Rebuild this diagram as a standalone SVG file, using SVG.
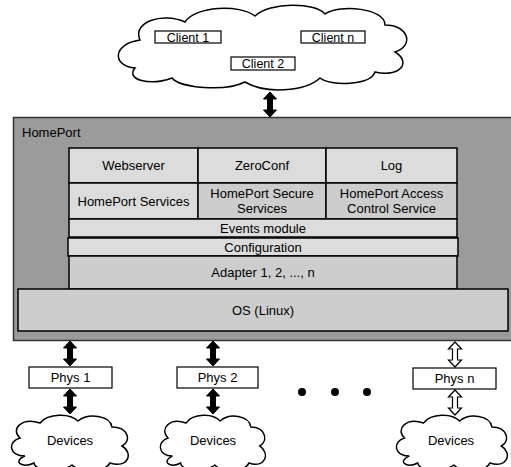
<svg xmlns="http://www.w3.org/2000/svg" width="511" height="467" viewBox="0 0 511 467">
<style>
text{font-family:"Liberation Sans",Arial,sans-serif;font-size:13px;fill:#000;text-anchor:middle}
.sm{font-size:12.5px}
.cloud{fill:#fff;stroke:#000;stroke-width:1.5}
.box{fill:#fff;stroke:#000;stroke-width:1.2}
.cell{stroke:#000;stroke-width:1.5}
.l{fill:#dcdcdc}
.d{fill:#cdcdcd}
.arw{fill:#000;stroke:#000;stroke-width:1}
.arwo{fill:#fff;stroke:#000;stroke-width:1.2}
</style>
<defs>
<path id="dbl" d="M0,0 L6.5,7 L2.5,7 L2.5,18 L6.5,18 L0,25 L-6.5,18 L-2.5,18 L-2.5,7 L-6.5,7 Z"/>
<path id="dev" d="M-45,15 C-62,15 -62,0 -50,-3 C-60,-12 -48,-24 -30,-18 C-22,-28 0,-28 8,-20 C18,-28 40,-26 42,-14 C58,-14 62,0 52,5 C64,12 58,28 40,22 C34,32 10,32 2,24 C-10,32 -35,30 -36,22 C-48,28 -58,20 -45,15 Z"/>
</defs>
<g id="clients">
<path class="cloud" d="M135,68 C112,66 112,44 140,40 C132,22 162,12 185,22 C195,6 240,4 255,16 C270,2 315,2 325,14 C340,4 385,8 385,25 C408,25 415,45 395,52 C412,62 400,78 375,72 C370,86 330,86 320,78 C305,92 265,94 245,82 C225,92 180,88 172,78 C150,86 125,80 135,68 Z"/>
<rect class="box" x="155" y="31" width="66" height="12"/><text class="sm" x="188" y="41.5">Client 1</text>
<rect class="box" x="301" y="31" width="64" height="12"/><text class="sm" x="333" y="41.5">Client n</text>
<rect class="box" x="231" y="57" width="64" height="13"/><text class="sm" x="263" y="68">Client 2</text>
</g>
<g id="homeport">
<rect x="13.5" y="117.5" width="510" height="223" fill="#9b9b9b" stroke="#333" stroke-width="1.5"/>
<text x="22" y="137" style="text-anchor:start">HomePort</text>
</g>
<g id="stack">
<rect class="cell l" x="69" y="148" width="129" height="35"/><text x="133.5" y="170">Webserver</text>
<rect class="cell l" x="198" y="148" width="128" height="35"/><text x="262" y="170">ZeroConf</text>
<rect class="cell l" x="326" y="148" width="131" height="35"/><text x="391.5" y="170">Log</text>
<rect class="cell l" x="69" y="183" width="129" height="36"/><text x="133.5" y="206">HomePort Services</text>
<rect class="cell d" x="198" y="183" width="128" height="36"/><text x="262" y="198">HomePort Secure</text><text x="262" y="213">Services</text>
<rect class="cell d" x="326" y="183" width="131" height="36"/><text x="391.5" y="198">HomePort Access</text><text x="391.5" y="213">Control Service</text>
<rect class="cell l" x="69" y="219" width="388" height="18"/><text x="263" y="232.5">Events module</text>
<rect class="cell l" x="68" y="238" width="390" height="18"/><text x="263" y="251.5">Configuration</text>
<rect class="cell d" x="69" y="256" width="388" height="33"/><text x="263" y="277">Adapter 1, 2, ..., n</text>
<rect class="cell d" x="18" y="289" width="490" height="42"/><text x="263" y="315">OS (Linux)</text>
</g>
<g id="phys">
<rect class="box" x="29" y="367" width="83" height="21"/><text x="70.5" y="382">Phys 1</text>
<rect class="box" x="177" y="367" width="81" height="21"/><text x="217.5" y="382">Phys 2</text>
<rect class="box" x="413" y="368" width="83" height="21"/><text x="454.5" y="383">Phys n</text>
</g>
<g id="devices">
<use href="#dev" class="cloud" transform="translate(70,441)"/><text x="70" y="445">Devices</text>
<use href="#dev" class="cloud" transform="translate(213,441) scale(0.9,1)"/><text x="213" y="445">Devices</text>
<use href="#dev" class="cloud" transform="translate(452,441) scale(0.95,1)"/><text x="451" y="445">Devices</text>
</g>
<g id="dots" fill="#000">
<circle cx="302" cy="392" r="4"/><circle cx="335" cy="392" r="4"/><circle cx="367" cy="392" r="4"/>
</g>
<g id="connectors">
<use href="#dbl" class="arw" transform="translate(270,92)"/>
<use href="#dbl" class="arw" transform="translate(70,341)"/>
<use href="#dbl" class="arw" transform="translate(70,389)"/>
<use href="#dbl" class="arw" transform="translate(213,341)"/>
<use href="#dbl" class="arw" transform="translate(213,389)"/>
<use href="#dbl" class="arwo" transform="translate(455,342)"/>
<use href="#dbl" class="arwo" transform="translate(455,390)"/>
</g>
</svg>
